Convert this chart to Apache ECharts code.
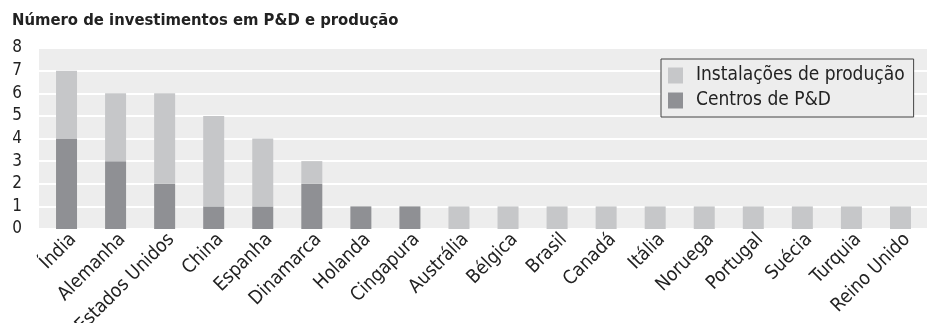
<!DOCTYPE html>
<html>
<head>
<meta charset="utf-8">
<script src="https://cdn.jsdelivr.net/npm/echarts@6/dist/echarts.min.js"></script>
<style>
  html, body { margin: 0; padding: 0; background: #fff; }
  #chart { width: 935px; height: 323px; }
</style>
</head>
<body>
<div id="chart"></div>
<script>
// Countries, ordered by total number of investments
const countries = ['Índia', 'Alemanha', 'Estados Unidos', 'China', 'Espanha', 'Dinamarca',
  'Holanda', 'Cingapura', 'Austrália', 'Bélgica', 'Brasil', 'Canadá', 'Itália',
  'Noruega', 'Portugal', 'Suécia', 'Turquia', 'Reino Unido'];
// Research & development centres (bottom of each stack)
const centrosPD = [4, 3, 2, 1, 1, 2, 1, 1, 0, 0, 0, 0, 0, 0, 0, 0, 0, 0];
// Production facilities (top of each stack)
const instalacoes = [3, 3, 4, 4, 3, 1, 0, 0, 1, 1, 1, 1, 1, 1, 1, 1, 1, 1];
const yTicks = [0, 1, 2, 3, 4, 5, 6, 7, 8];

const FONT = '"DejaVu Sans Condensed", "DejaVu Sans", sans-serif';
const INK = '#222';
const yRange = { min: yTicks[0], max: yTicks[yTicks.length - 1], interval: 1 };

const chart = echarts.init(document.getElementById('chart'));
chart.setOption({
  animation: false,
  title: {
    text: 'Número de investimentos em P&D e produção',
    left: 7, top: 7,
    textStyle: { fontFamily: FONT, fontWeight: 'bold', fontSize: 16.5, color: INK }
  },
  legend: {
    data: ['Instalações de produção', 'Centros de P&D'],
    orient: 'vertical',
    left: 661, top: 59,
    padding: [7, 9, 7, 7],
    itemWidth: 15, itemHeight: 16, itemGap: 6,
    borderColor: '#444', borderWidth: 1,
    backgroundColor: '#ededed',
    icon: 'rect',
    textStyle: { fontFamily: FONT, fontSize: 19, color: INK, padding: [0, 0, 0, 8] }
  },
  grid: [
    // shaded panel with the value scale and white guide lines
    { left: 39, right: 8, top: 48, bottom: 94, outerBoundsMode: 'none',
      show: true, backgroundColor: '#ededed', borderWidth: 0 },
    // bars, laid out on a slightly inset band
    { left: 42, right: 10, top: 48, bottom: 94, outerBoundsMode: 'none' }
  ],
  xAxis: [
    { gridIndex: 0, type: 'category', data: countries, show: false },
    {
      gridIndex: 1, type: 'category', data: countries,
      axisLine: { show: false },
      axisTick: { show: false },
      axisLabel: {
        rotate: 45, interval: 0, margin: 1,
        verticalAlign: 'top',
        fontFamily: FONT, fontSize: 19, color: INK
      }
    }
  ],
  yAxis: [
    {
      gridIndex: 0, type: 'value', ...yRange,
      axisLine: { show: false },
      axisTick: { show: false },
      splitLine: { lineStyle: { color: '#fff', width: 2 } },
      axisLabel: { margin: 17, fontFamily: FONT, fontSize: 17, color: INK }
    },
    {
      gridIndex: 1, type: 'value', ...yRange,
      show: false, splitLine: { show: false }
    }
  ],
  series: [
    {
      name: 'Centros de P&D', type: 'bar', stack: 'total',
      xAxisIndex: 1, yAxisIndex: 1,
      data: centrosPD, barWidth: 21,
      itemStyle: { color: '#8f9094' }
    },
    {
      name: 'Instalações de produção', type: 'bar', stack: 'total',
      xAxisIndex: 1, yAxisIndex: 1,
      data: instalacoes, barWidth: 21,
      itemStyle: { color: '#c6c7c9' }
    }
  ]
});
</script>
</body>
</html>
